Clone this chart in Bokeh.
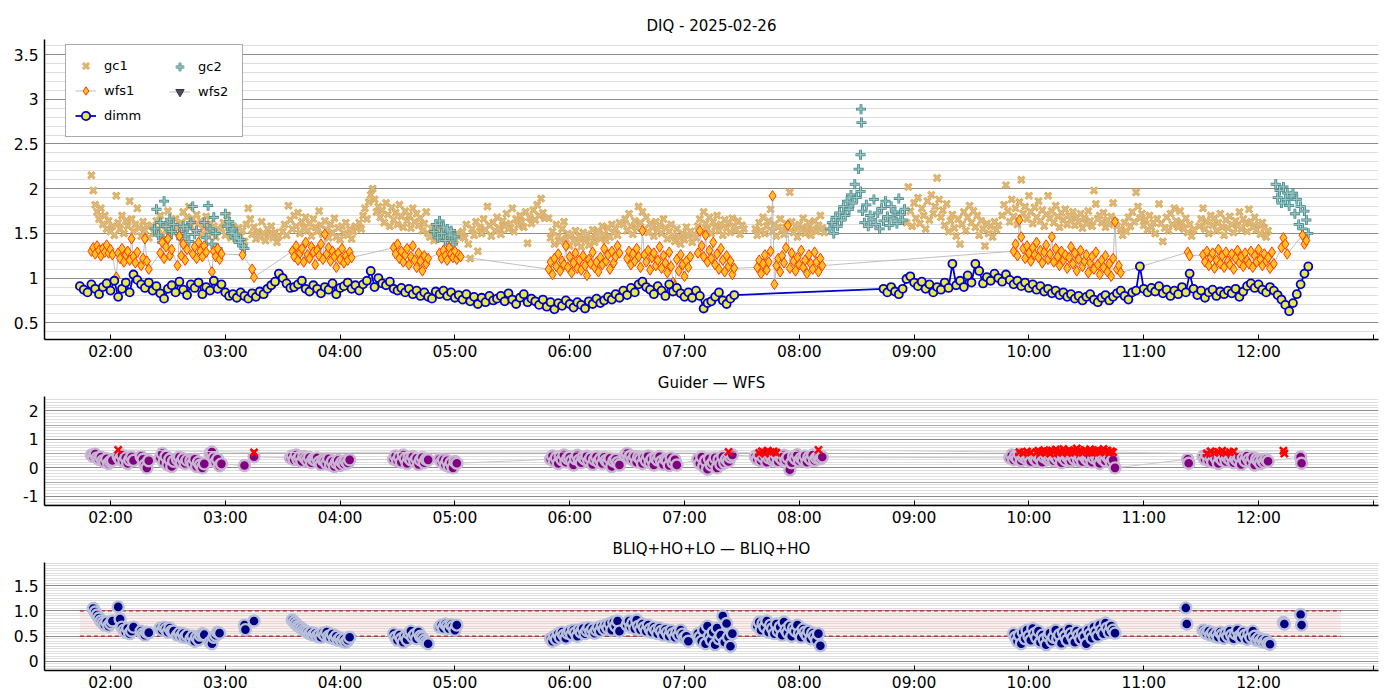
import numpy as np
from bokeh.plotting import figure
from bokeh.layouts import column
from bokeh.models import Range1d, FixedTicker, Legend, LegendItem, Grid, BoxAnnotation
from bokeh.embed import file_html
from bokeh.resources import INLINE

FONT = "DejaVu Sans"

# ---------------- text / axes ----------------
TITLE_TOP = "DIQ - 2025-02-26"
TITLE_MID = "Guider \u2014 WFS"
TITLE_BOT = "BLIQ+HO+LO \u2014 BLIQ+HO"
X_START, X_END = "01:25.5", "13:02.7"
X_TICK_HOURS = [2, 3, 4, 5, 6, 7, 8, 9, 10, 11, 12, 13]
X_TICK_LABELS = ["02:00", "03:00", "04:00", "05:00", "06:00", "07:00", "08:00",
                 "09:00", "10:00", "11:00", "12:00", ""]
TOP_Y_TICKS = [0.5, 1.0, 1.5, 2.0, 2.5, 3.0, 3.5]
TOP_Y_LABELS = ["0.5", "1", "1.5", "2", "2.5", "3", "3.5"]
MID_Y_TICKS = [-1, 0, 1, 2]
MID_Y_LABELS = ["-1", "0", "1", "2"]
BOT_Y_TICKS = [0.0, 0.5, 1.0, 1.5]
BOT_Y_LABELS = ["0", "0.5", "1.0", "1.5"]
BAND_START, BAND_END = "01:44", "12:43"
BAND_LOW, BAND_HIGH = 0.5, 1.0

# ---------------- data: (start time, cadence in minutes, values) ----------------
DIMM = [
    ("01:44", 2, [0.91, 0.87, 0.84, 0.93, 0.88, 0.82, 0.90, 0.94, 0.86, 0.97,
                  0.79, 0.88, 0.95, 0.84, 1.04, 0.98, 0.93, 0.89, 0.95, 0.86,
                  0.91, 0.83, 0.77, 0.88, 0.92, 0.84, 0.96, 0.87, 0.81, 0.93,
                  0.89, 0.95, 0.82, 0.90, 0.86, 0.97, 0.88, 0.93, 0.84, 0.80,
                  0.82, 0.78, 0.84, 0.80, 0.77, 0.83, 0.79, 0.85, 0.82, 0.88,
                  0.92, 0.96, 1.05, 1.00, 0.94, 0.89, 0.90, 0.93, 0.97, 0.88,
                  0.85, 0.92, 0.88, 0.83, 0.90, 0.87, 0.94, 0.82, 0.89, 0.91,
                  0.95, 0.88, 0.92, 0.86, 0.93, 0.97, 1.08, 0.90, 1.00, 0.94,
                  0.92, 0.96, 0.88, 0.86, 0.89, 0.84, 0.88, 0.82, 0.86, 0.80,
                  0.84, 0.79, 0.77, 0.85, 0.82, 0.86, 0.80, 0.84, 0.78, 0.81,
                  0.76, 0.82, 0.74, 0.79, 0.71, 0.78, 0.73, 0.80, 0.75, 0.77,
                  0.80, 0.74, 0.83, 0.76, 0.71, 0.78, 0.82, 0.73, 0.77, 0.74,
                  0.70, 0.76, 0.68, 0.73, 0.65, 0.72, 0.69, 0.75, 0.71, 0.67,
                  0.73, 0.70, 0.66, 0.74, 0.71, 0.77, 0.72, 0.75, 0.79, 0.76,
                  0.82, 0.78, 0.86, 0.81, 0.89, 0.84, 0.93, 0.96, 0.90, 0.87,
                  0.82, 0.91, 0.86, 0.80, 0.93, 0.85, 0.89, 0.83, 0.79, 0.84,
                  0.78, 0.86, 0.80, 0.66, 0.72, 0.74, 0.79, 0.84, 0.75, 0.71,
                  0.77, 0.81]),
    ("08:44", 2, [0.88, 0.84, 0.90, 0.85, 0.82, 0.88, 0.99, 1.02, 0.95, 0.91,
                  0.96, 0.88, 0.93, 0.84, 0.90, 0.87, 0.95, 0.89, 1.16, 0.92,
                  0.97, 0.90, 1.03, 0.95, 1.16, 1.08, 0.94, 1.01, 0.97, 1.05,
                  1.00, 0.96, 1.04, 0.98, 0.93, 0.97, 0.91, 0.95, 0.89, 0.93,
                  0.87, 0.91, 0.85, 0.88, 0.83, 0.86, 0.81, 0.84, 0.79, 0.82,
                  0.77, 0.80, 0.75, 0.79, 0.82, 0.76, 0.73, 0.78, 0.81, 0.75,
                  0.79, 0.83, 0.86, 0.80, 0.76, 0.84, 0.86, 1.13, 0.88, 0.84,
                  0.89, 0.85, 0.91, 0.83, 0.87, 0.80, 0.86, 0.82, 0.90, 0.84,
                  1.05, 0.88, 0.81, 0.86, 0.78, 0.84, 0.87, 0.80, 0.85, 0.82,
                  0.86, 0.83, 0.88, 0.79, 0.85, 0.91, 0.94, 0.89, 0.93, 0.87,
                  0.84, 0.90, 0.86, 0.81, 0.76, 0.70, 0.63, 0.72, 0.82, 0.93,
                  1.05, 1.13]),
]

WFS1 = [
    ("01:50", 1, [1.30, 1.34, 1.27, 1.36, 1.31, 1.25, 1.33, 1.29, 1.37, 1.28, 1.32, 1.26]),
    ("02:03", 1, [1.01, 1.28, 1.22, 1.33, 1.18, 1.26, 1.30, 1.20, 1.44, 1.24, 1.17, 1.29]),
    ("02:16", 1, [1.14, 1.22, 1.44, 1.19, 1.10]),
    ("02:26", 1, [1.28, 1.40, 1.22, 1.35, 1.44, 1.25, 1.32]),
    ("02:35", 1, [1.14, 1.47, 1.25, 1.38, 1.20, 1.32]),
    ("02:43", 1, [1.27, 1.35, 1.22, 1.40, 1.30, 1.24, 1.36, 1.29]),
    ("02:53", 1, [1.07, 1.30, 1.24, 1.33, 1.21, 1.27]),
    ("03:09", 1, [1.26]),
    ("03:14", 1, [1.10, 1.01]),
    ("03:35", 1, [1.30, 1.24, 1.36, 1.20, 1.28, 1.33, 1.18, 1.40, 1.26, 1.22, 1.35, 1.29,
                  1.15, 1.31, 1.25, 1.38, 1.21, 1.49, 1.27, 1.34, 1.19, 1.30, 1.24, 1.12,
                  1.28, 1.21, 1.33, 1.17, 1.25, 1.20, 1.29, 1.23]),
    ("04:28", 1, [1.34, 1.27, 1.38, 1.22, 1.30, 1.18, 1.26, 1.33, 1.15, 1.24, 1.36, 1.20,
                  1.12, 1.28, 1.19, 1.08, 1.25, 1.16, 1.22]),
    ("04:52", 1, [1.28, 1.22, 1.31, 1.25, 1.20, 1.34, 1.27, 1.23, 1.30, 1.21, 1.26, 1.24]),
    ("05:49", 1, [1.10, 1.18, 1.04, 1.22, 1.13, 1.27, 1.08, 1.19, 1.15, 1.36, 1.12, 1.24,
                  1.06, 1.17, 1.28, 1.11, 1.20, 1.09, 1.25, 1.14, 1.03, 1.21, 1.16, 1.29,
                  1.12, 1.18, 1.07, 1.23, 1.15, 1.33, 1.19, 1.26, 1.10, 1.30, 1.17, 1.24,
                  1.36, 1.28]),
    ("06:30", 1, [1.22, 1.30, 1.15, 1.27, 1.19, 1.33, 1.24, 1.12, 1.53, 1.26, 1.18, 1.31,
                  1.09, 1.23, 1.28, 1.14, 1.20, 1.35, 1.11, 1.25, 1.17, 1.06, 1.29, 1.13,
                  0.95, 0.91, 1.21, 1.08, 1.26, 1.15, 1.02, 1.19, 1.12, 1.24]),
    ("07:07", 1, [1.28, 1.53, 1.36, 1.24, 1.48, 1.18, 1.31, 1.22, 1.40, 1.15, 1.27, 1.10,
                  1.33, 1.20, 1.07, 1.25, 1.13, 1.19, 1.04, 1.11]),
    ("07:38", 1, [1.12, 1.20, 1.05, 1.16, 1.26, 1.09, 1.18, 1.30, 1.92, 0.93, 1.14, 1.22,
                  1.07, 1.25, 1.17, 1.34, 1.59, 1.11, 1.28, 1.19, 1.08, 1.23, 1.15, 1.31,
                  1.12, 1.20, 1.05, 1.26, 1.16, 1.10, 1.29, 1.18, 1.07, 1.22, 1.14]),
    ("09:52", 1, [1.30, 1.38, 1.25, 1.65, 1.46, 1.33, 1.22, 1.36, 1.28, 1.19, 1.34, 1.26,
                  1.40, 1.23, 1.31, 1.17, 1.29, 1.37, 1.21, 1.27, 1.46, 1.18, 1.33, 1.24,
                  1.14, 1.30, 1.20, 1.26, 1.11, 1.23, 1.35, 1.16, 1.28, 1.08, 1.21, 1.31,
                  1.13, 1.19, 1.26, 1.06, 1.17, 1.24, 1.10, 1.29, 1.15, 1.04, 1.20, 1.12,
                  1.25, 1.07, 1.16, 1.02, 1.22, 1.63, 1.10, 1.14, 1.06]),
    ("11:23", 1, [1.29, 1.25]),
    ("11:31", 1, [1.26, 1.18, 1.30, 1.14, 1.23, 1.28, 1.11, 1.20, 1.32, 1.16, 1.25, 1.12,
                  1.29, 1.19, 1.15, 1.27, 1.10, 1.22, 1.31, 1.17, 1.24, 1.13, 1.28, 1.20,
                  1.16, 1.30, 1.12, 1.25, 1.18, 1.32, 1.21, 1.14, 1.27, 1.19, 1.23, 1.11,
                  1.29, 1.16]),
    ("12:12", 1, [1.34, 1.45, 1.38, 1.27]),
    ("12:23", 1, [1.48, 1.38, 1.42]),
]

GC1 = [
    ("01:50", 1, [2.15, 1.98, 1.82, 1.74, 1.66, 1.78, 1.60, 1.70, 1.55, 1.64, 1.52, 1.58]),
    ("02:02", 1, [1.48, 1.92, 1.62, 1.55, 1.70, 1.50, 1.64, 1.58, 1.86, 1.66, 1.52, 1.60,
                  1.78, 1.56, 1.47, 1.63, 1.53, 1.59, 1.45]),
    ("02:22", 1, [1.58, 1.50, 1.64, 1.55, 1.70, 1.48, 1.60, 1.53, 1.75, 1.57, 1.62, 1.51,
                  1.66, 1.56, 1.59]),
    ("02:37", 1, [1.62, 1.74, 1.55, 1.68, 1.80, 1.58, 1.66, 1.52, 1.71, 1.60, 1.64, 1.49,
                  1.57, 1.69, 1.54, 1.61, 1.50, 1.58, 1.46, 1.55]),
    ("02:58", 1, [1.55, 1.62, 1.48, 1.70, 1.52, 1.45, 1.58, 1.50, 1.43, 1.56, 1.47, 1.53,
                  1.41, 1.60, 1.78, 1.66, 1.49, 1.57, 1.44, 1.52, 1.46, 1.63, 1.50, 1.42,
                  1.55, 1.48, 1.58, 1.45, 1.51, 1.40, 1.47]),
    ("03:30", 1, [1.52, 1.60, 1.48, 1.81, 1.65, 1.55, 1.70, 1.58, 1.73, 1.50, 1.63, 1.56,
                  1.68, 1.53, 1.61, 1.47, 1.66, 1.57, 1.52, 1.75, 1.59, 1.49, 1.64, 1.54,
                  1.45, 1.60, 1.51, 1.67, 1.46, 1.56, 1.43, 1.58, 1.50, 1.62, 1.48, 1.55,
                  1.44, 1.52, 1.58]),
    ("04:10", 1, [1.62, 1.55, 1.70, 1.78, 1.66, 1.85, 1.93, 2.00, 1.88, 1.74, 1.80, 1.68,
                  1.76, 1.62, 1.84, 1.71, 1.58, 1.79, 1.65, 1.73, 1.60, 1.82, 1.69, 1.57,
                  1.75, 1.64, 1.70, 1.56, 1.78, 1.63, 1.72, 1.59, 1.67, 1.53, 1.61, 1.74]),
    ("04:46", 1, [1.50, 1.46, 1.55, 1.42, 1.52, 1.48, 1.58, 1.44, 1.51, 1.47, 1.40, 1.53,
                  1.45, 1.49, 1.43, 1.50, 1.46]),
    ("05:04", 1, [1.52, 1.45, 1.60, 1.38, 1.22, 1.55, 1.48, 1.63, 1.30, 1.57, 1.50, 1.66,
                  1.54, 1.80, 1.59, 1.47, 1.62, 1.53, 1.68, 1.56, 1.49, 1.64, 1.58, 1.72,
                  1.55, 1.61, 1.78, 1.52, 1.66, 1.59, 1.70, 1.63, 1.57, 1.74, 1.39, 1.68,
                  1.61, 1.76, 1.65, 1.82, 1.70, 1.89, 1.73, 1.67]),
    ("05:49", 1, [1.67, 1.45, 1.52, 1.38, 1.60, 1.47, 1.41, 1.55, 1.63, 1.44, 1.50, 1.36,
                  1.48, 1.42, 1.53, 1.39, 1.46, 1.35, 1.51, 1.43, 1.49, 1.37, 1.45, 1.54,
                  1.40, 1.47, 1.52, 1.44, 1.58, 1.49, 1.42, 1.56, 1.46, 1.60, 1.51, 1.55,
                  1.48, 1.62]),
    ("06:28", 1, [1.60, 1.66, 1.53, 1.72, 1.58, 1.49, 1.64, 1.56, 1.80, 1.62, 1.74, 1.55,
                  1.68, 1.51, 1.61, 1.57, 1.47, 1.63, 1.54, 1.59, 1.50, 1.66, 1.56, 1.44,
                  1.52, 1.60, 1.48, 1.41, 1.55, 1.46, 1.38, 1.50, 1.43, 1.57, 1.47, 1.52,
                  1.40, 1.49, 1.45]),
    ("07:07", 1, [1.58, 1.66, 1.52, 1.74, 1.61, 1.55, 1.68, 1.50, 1.63, 1.57, 1.70, 1.53,
                  1.60, 1.48, 1.65, 1.56, 1.62, 1.51, 1.67, 1.58, 1.54, 1.64, 1.49, 1.59,
                  1.55]),
    ("07:37", 1, [1.55, 1.48, 1.62, 1.53, 1.68, 1.50, 1.58, 1.64, 1.77, 1.52, 1.60, 1.47,
                  1.57, 1.66, 1.54, 1.49, 1.61, 1.56, 1.96, 1.63, 1.51, 1.58, 1.46, 1.60,
                  1.54, 1.67, 1.50, 1.57, 1.62, 1.48, 1.55, 1.64, 1.52, 1.59, 1.70, 1.56,
                  1.51]),
    ("08:56", 1, [1.62, 2.02, 1.75, 1.58, 1.84, 1.67, 1.90, 1.61, 1.78, 1.70, 1.55, 1.86,
                  1.65, 1.93, 1.72, 1.80, 2.12, 1.88, 1.68, 1.76, 1.59, 1.83, 1.52, 1.64,
                  1.71, 1.56, 1.47, 1.66, 1.38, 1.60, 1.74, 1.53, 1.68, 1.81, 1.62, 1.75,
                  1.57, 1.70, 1.48, 1.64, 1.55, 1.36, 1.61, 1.50, 1.58, 1.46, 1.63, 1.54,
                  1.59]),
    ("09:46", 1, [1.70, 1.82, 2.04, 1.75, 1.63, 1.88, 1.69, 1.78, 1.60, 1.85, 2.10, 1.72,
                  1.80, 1.66, 1.92, 1.74, 1.61, 1.79, 1.68, 1.86, 1.64, 1.76, 1.58, 1.71,
                  1.92, 1.67, 1.75, 1.62, 1.81, 1.69, 1.57, 1.73, 1.65, 1.77, 1.60, 1.70,
                  1.66, 1.74, 1.59, 1.68, 1.63, 1.72, 1.56, 1.67, 1.61, 1.75, 1.64, 1.58,
                  1.98, 1.83, 1.66, 1.70, 1.62, 1.73, 1.57, 1.65, 1.60, 1.69, 1.84, 1.63,
                  1.58]),
    ("10:48", 1, [1.55, 1.48, 1.62, 1.52, 1.68, 1.58, 1.74, 1.63, 1.96, 1.80, 1.67, 1.72,
                  1.59, 1.65, 1.54, 1.70, 1.57, 1.62, 1.50, 1.66, 1.83, 1.61, 1.41, 1.56,
                  1.68, 1.53, 1.72, 1.60, 1.78, 1.64, 1.57, 1.75, 1.62, 1.55, 1.67, 1.51,
                  1.60, 1.47, 1.54]),
    ("11:29", 1, [1.58, 1.66, 1.78, 1.55, 1.63, 1.50, 1.70, 1.59, 1.67, 1.53, 1.62, 1.72,
                  1.57, 1.48, 1.65, 1.56, 1.69, 1.60, 1.51, 1.64, 1.58, 1.74, 1.55, 1.66,
                  1.61, 1.52, 1.77, 1.63, 1.57, 1.68, 1.54, 1.60, 1.49, 1.62, 1.56, 1.46,
                  1.53]),
]

GC2 = [
    ("02:23", 1, [1.55, 1.77, 1.48, 1.62, 1.40, 1.86, 1.58, 1.45, 1.66, 1.52, 1.60]),
    ("02:36", 1, [1.50, 1.44, 1.58, 1.47, 1.55, 1.41, 1.62, 1.80, 1.49, 1.53]),
    ("02:49", 1, [1.62, 1.45, 1.81, 1.55, 1.38, 1.68, 1.50, 1.33]),
    ("03:00", 1, [1.72, 1.58, 1.63, 1.50, 1.55, 1.45, 1.48, 1.40, 1.43, 1.36, 1.33]),
    ("04:49", 1, [1.52, 1.60, 1.45, 1.64, 1.50, 1.57, 1.42, 1.55, 1.48, 1.53, 1.38, 1.46]),
    ("08:16", 1, [1.55, 1.62, 1.50, 1.68, 1.58, 1.73, 1.65, 1.80, 1.70, 1.86, 1.77, 1.93,
                  1.84, 2.05, 1.90, 2.22, 1.97]),
    ("08:32", 0.25, [2.38, 2.89, 2.74]),
    ("08:33", 1, [1.75, 1.62, 1.82, 1.58, 1.70, 1.66, 1.88, 1.60, 1.73, 1.55, 1.78, 1.64,
                  1.86, 1.69, 1.59, 1.80, 1.67, 1.74, 1.61, 1.89, 1.71, 1.65, 1.77]),
    ("12:09", 1, [2.05, 1.90, 1.98, 1.84, 2.02, 1.88, 1.95, 1.81, 1.92]),
    ("12:18", 1, [1.95, 1.72, 1.88, 1.60, 1.80, 1.55, 1.75, 1.65, 1.50]),
]

WFS2 = [("12:00", 1, [float("nan")])]   # no valid wfs2 measurement this night

GUIDER_WFS = [
    ("01:50", 1, [0.45, 0.40, 0.48, 0.35, 0.30, 0.38, 0.25, 0.20, 0.32, 0.15, 0.22, 0.26]),
    ("02:04", 1, [0.40, 0.30, 0.45, 0.22, 0.35, 0.15, 0.28, 0.38, 0.26]),
    ("02:16", 1, [0.40, 0.30, 0.10, 0.00, 0.25]),
    ("02:26", 1, [0.35, 0.50, 0.20, 0.40, 0.10, 0.30, 0.05, 0.23]),
    ("02:35", 1, [0.30, 0.38, 0.20, 0.32, 0.15, 0.27]),
    ("02:42", 1, [0.25, 0.15, 0.30, 0.05, 0.20, 0.10, 0.00, 0.14]),
    ("02:52", 1, [0.50, 0.55, 0.35, 0.20, 0.30, 0.07, 0.14]),
    ("03:10", 1, [0.08]),
    ("03:15", 1, [0.39]),
    ("03:34", 1, [0.35, 0.42, 0.28, 0.45, 0.30, 0.38, 0.22, 0.40, 0.33, 0.25, 0.36, 0.18,
                  0.30, 0.27, 0.35, 0.20, 0.12, 0.28, 0.24, 0.15, 0.32, 0.10, 0.22, 0.05,
                  0.18, 0.26, 0.08, 0.20, 0.14, 0.25, 0.17, 0.28]),
    ("04:28", 1, [0.30, 0.42, 0.25, 0.38, 0.20, 0.45, 0.32, 0.15, 0.35, 0.28, 0.40, 0.22,
                  0.33, 0.12, 0.27, 0.36, 0.18, 0.30, 0.28]),
    ("04:52", 1, [0.30, 0.20, 0.28, 0.10, 0.25, 0.05, 0.18, 0.00, 0.22, 0.16]),
    ("05:50", 1, [0.30, 0.42, 0.22, 0.35, 0.15, 0.40, 0.28, 0.45, 0.20, 0.33, 0.38, 0.25,
                  0.10, 0.32, 0.44, 0.27, 0.18, 0.36, 0.30, 0.41, 0.23, 0.34, 0.12, 0.29,
                  0.39, 0.21, 0.31, 0.15, 0.37, 0.26, 0.20, 0.33, 0.05, 0.24, 0.30, 0.18,
                  0.10]),
    ("06:29", 1, [0.45, 0.50, 0.35, 0.42, 0.28, 0.40, 0.20, 0.38, 0.32, 0.15, 0.36, 0.25,
                  0.42, 0.18, 0.30, 0.10, 0.34, 0.27, 0.40, 0.22, 0.12, 0.31, 0.26, 0.08,
                  0.35, 0.19, 0.28, 0.10]),
    ("07:07", 1, [0.30, 0.15, 0.38, 0.05, 0.25, -0.05, 0.32, 0.10, 0.20, 0.35, 0.00, 0.28,
                  0.12, 0.40, 0.18, 0.30, 0.22, 0.38, 0.45]),
    ("07:37", 1, [0.40, 0.30, 0.45, 0.25, 0.38, 0.50, 0.20, 0.35, 0.42, 0.28, 0.33, 0.48,
                  0.22, 0.38, 0.30, 0.44, 0.26, 0.36, -0.07, 0.18, 0.40, 0.32, 0.46, 0.24,
                  0.34, 0.28, 0.42, 0.20, 0.37, 0.30, 0.45, 0.26, 0.35, 0.40, 0.32, 0.38]),
    ("09:50", 1, [0.35, 0.45, 0.28, 0.40, 0.33, 0.48, 0.25, 0.38, 0.42, 0.30, 0.36, 0.22,
                  0.44, 0.32, 0.27, 0.40, 0.35, 0.20, 0.38, 0.46, 0.29, 0.34, 0.41, 0.25,
                  0.37, 0.31, 0.43, 0.18, 0.35, 0.28, 0.40, 0.33, 0.24, 0.39, 0.30, 0.45,
                  0.26, 0.36, 0.22, 0.41, 0.32, 0.28, 0.38, 0.20, 0.34, 0.42, 0.27, 0.15,
                  0.36, 0.30, 0.24, 0.40, 0.33, 0.19, 0.28, 0.00]),
    ("11:23", 0.5, [0.30, 0.16]),
    ("11:31", 1, [0.40, 0.30, 0.45, 0.25, 0.38, 0.20, 0.42, 0.33, 0.15, 0.36, 0.28, 0.44,
                  0.22, 0.35, 0.30, 0.40, 0.18, 0.32, 0.26, 0.38, 0.12, 0.34, 0.24, 0.41,
                  0.29, 0.20, 0.36, 0.10, 0.31, 0.25, 0.15, 0.28, 0.20, 0.30, 0.23]),
    ("12:22", 0.5, [0.38, 0.16]),
]

GUIDER_FLAG = [
    ("02:04", 1, [0.63]),
    ("03:15", 1, [0.54]),
    ("07:23", 1, [0.56]),
    ("07:39", 1.5, [0.52, 0.58, 0.50, 0.60, 0.55, 0.57, 0.53]),
    ("08:10", 1, [0.63]),
    ("09:55", 2, [0.55, 0.52, 0.57, 0.54]),
    ("10:04", 1, [0.55, 0.60, 0.52, 0.58, 0.62, 0.54, 0.57, 0.50, 0.61, 0.56, 0.64, 0.53,
                  0.59, 0.55, 0.66, 0.58, 0.52, 0.62, 0.57, 0.60, 0.54, 0.68, 0.56, 0.61,
                  0.53, 0.63, 0.58, 0.55, 0.65, 0.52, 0.60, 0.57, 0.62, 0.54, 0.59, 0.66,
                  0.56, 0.61, 0.53, 0.58, 0.55]),
    ("11:33", 2, [0.50, 0.58, 0.53, 0.56, 0.60, 0.52, 0.55, 0.57]),
    ("12:13", 0.5, [0.60, 0.50]),
]

BLIQ_DIFF = [
    ("01:51", 1, [1.05, 0.98, 0.92, 0.86, 0.80, 0.76, 0.72, 0.78, 0.70, 0.75, 0.80]),
    ("02:04", 1, [1.08, 0.84, 0.68, 0.62, 0.58, 0.65, 0.55, 0.60, 0.68]),
    ("02:16", 1, [0.60, 0.55, 0.52, 0.58, 0.57]),
    ("02:26", 1, [0.66, 0.62, 0.68, 0.64, 0.58, 0.66, 0.60, 0.60]),
    ("02:35", 1, [0.52, 0.56, 0.50, 0.55, 0.48, 0.52]),
    ("02:42", 1, [0.45, 0.50, 0.40, 0.48, 0.43, 0.52, 0.55, 0.53]),
    ("02:52", 1, [0.38, 0.35, 0.48, 0.52, 0.58, 0.56]),
    ("03:10", 0.5, [0.72, 0.63]),
    ("03:15", 1, [0.80]),
    ("03:35", 1, [0.82, 0.78, 0.74, 0.70, 0.68, 0.65, 0.62, 0.60, 0.58, 0.55, 0.57, 0.52,
                  0.55, 0.50, 0.53, 0.48, 0.56, 0.52, 0.58, 0.50, 0.47, 0.54, 0.45, 0.50,
                  0.42, 0.46, 0.40, 0.44, 0.38, 0.42, 0.48]),
    ("04:28", 1, [0.55, 0.48, 0.42, 0.52, 0.45, 0.38, 0.50, 0.43, 0.56, 0.60, 0.48, 0.53,
                  0.45, 0.58, 0.50, 0.47, 0.42, 0.38, 0.35]),
    ("04:52", 1, [0.68, 0.72, 0.66, 0.74, 0.70, 0.65, 0.73, 0.69, 0.62, 0.72]),
    ("05:50", 1, [0.45, 0.40, 0.50, 0.44, 0.55, 0.48, 0.58, 0.52, 0.46, 0.56, 0.60, 0.53,
                  0.62, 0.57, 0.50, 0.63, 0.58, 0.65, 0.55, 0.61, 0.67, 0.59, 0.64, 0.56,
                  0.62, 0.68, 0.60, 0.70, 0.64, 0.72, 0.66, 0.75, 0.62, 0.78, 0.70, 0.80,
                  0.60]),
    ("06:30", 1, [0.72, 0.80, 0.68, 0.76, 0.65, 0.82, 0.70, 0.63, 0.74, 0.67, 0.60, 0.72,
                  0.64, 0.58, 0.68, 0.62, 0.55, 0.66, 0.60, 0.52, 0.63, 0.57, 0.50, 0.61,
                  0.55, 0.48, 0.58, 0.52, 0.62, 0.54, 0.47, 0.50, 0.40]),
    ("07:07", 1, [0.55, 0.48, 0.40, 0.62, 0.35, 0.70, 0.50, 0.42, 0.58, 0.33, 0.66, 0.45,
                  0.52, 0.90, 0.38, 0.75, 0.48, 0.30, 0.55]),
    ("07:38", 1, [0.70, 0.78, 0.62, 0.75, 0.68, 0.80, 0.58, 0.72, 0.65, 0.55, 0.74, 0.60,
                  0.68, 0.52, 0.78, 0.63, 0.57, 0.70, 0.50, 0.66, 0.60, 0.72, 0.55, 0.48,
                  0.64, 0.58, 0.52, 0.60, 0.45, 0.56, 0.50, 0.42, 0.55, 0.31]),
    ("09:52", 1, [0.55, 0.48, 0.40, 0.52, 0.35, 0.58, 0.45, 0.62, 0.50, 0.42, 0.65, 0.55,
                  0.47, 0.60, 0.38, 0.52, 0.44, 0.33, 0.50, 0.56, 0.40, 0.48, 0.62, 0.45,
                  0.53, 0.36, 0.58, 0.50, 0.42, 0.64, 0.55, 0.47, 0.38, 0.60, 0.52, 0.44,
                  0.57, 0.49, 0.35, 0.62, 0.54, 0.46, 0.68, 0.58, 0.50, 0.72, 0.62, 0.55,
                  0.76, 0.66, 0.58, 0.70, 0.62, 0.56]),
    ("11:22", 0.5, [1.06, 0.74]),
    ("11:31", 1, [0.62, 0.58, 0.55, 0.60, 0.52, 0.57, 0.50, 0.55, 0.48, 0.58, 0.53, 0.46,
                  0.56, 0.50, 0.60, 0.52, 0.45, 0.55, 0.62, 0.50, 0.47, 0.58, 0.52, 0.44,
                  0.55, 0.48, 0.60, 0.50, 0.42, 0.46, 0.40, 0.44, 0.38, 0.42, 0.36, 0.34]),
    ("12:13", 0.5, [0.77, 0.74]),
    ("12:22", 0.5, [0.93, 0.72]),
]


# ---------------- helpers ----------------
def hrs(s):
    h, m = s.split(":")
    return int(h) + float(m) / 60.0


def expand(segments):
    t, v = [], []
    for start, step, vals in segments:
        t0 = hrs(start)
        for i, val in enumerate(vals):
            t.append(t0 + i * step / 60.0)
            v.append(val)
    return t, v


def minor_list(lo, hi, step, majors):
    out = []
    for v in np.arange(lo, hi + 1e-9, step):
        v = round(float(v), 3)
        if all(abs(v - m) > 1e-6 for m in majors):
            out.append(v)
    return out


def make_fig(title, frame_h, y0, y1, ticks, labels, minor, top, bottom):
    p = figure(frame_width=1334, frame_height=frame_h,
               x_range=Range1d(hrs(X_START), hrs(X_END)), y_range=Range1d(y0, y1),
               output_backend="svg", toolbar_location=None,
               min_border_left=44, min_border_right=6,
               min_border_top=top, min_border_bottom=bottom,
               background_fill_color="white", border_fill_color="white",
               title=title)
    p.title.align = "center"
    p.title.text_font = FONT
    p.title.text_font_size = "15px"
    p.title.text_font_style = "normal"
    p.title.text_color = "black"
    p.title.standoff = 10
    p.outline_line_color = None

    xt = FixedTicker(ticks=X_TICK_HOURS)
    p.xaxis.ticker = xt
    p.xgrid.ticker = xt
    p.xgrid.visible = False
    p.xaxis.major_label_overrides = dict(zip(X_TICK_HOURS, X_TICK_LABELS))
    p.xaxis.major_tick_in = 5
    p.xaxis.major_tick_out = 0
    p.xaxis.major_tick_line_color = "black"
    p.xaxis.minor_tick_line_color = None
    p.xaxis.axis_line_color = "black"
    p.xaxis.axis_line_width = 1.5
    p.xaxis.major_label_text_font = FONT
    p.xaxis.major_label_text_font_size = "15.5px"
    p.xaxis.major_label_text_color = "black"
    p.xaxis.major_label_standoff = 3

    yt = FixedTicker(ticks=ticks, minor_ticks=minor)
    p.yaxis.ticker = yt
    p.ygrid.ticker = yt
    p.yaxis.major_label_overrides = dict(zip(ticks, labels))
    p.yaxis.major_tick_in = 0
    p.yaxis.major_tick_out = 0
    p.yaxis.minor_tick_in = 0
    p.yaxis.minor_tick_out = 0
    p.yaxis.major_tick_line_color = None
    p.yaxis.minor_tick_line_color = None
    p.yaxis.axis_line_color = "black"
    p.yaxis.axis_line_width = 1.5
    p.yaxis.major_label_text_font = FONT
    p.yaxis.major_label_text_font_size = "15.5px"
    p.yaxis.major_label_text_color = "black"
    p.yaxis.major_label_standoff = 6
    p.ygrid.grid_line_color = "#8c8c8c"
    p.ygrid.grid_line_width = 1
    p.ygrid.minor_grid_line_color = "#dedede"
    p.ygrid.minor_grid_line_width = 1
    return p


# ---------------- top panel ----------------
p1 = make_fig(TITLE_TOP, 300, 0.313, 3.669, TOP_Y_TICKS, TOP_Y_LABELS,
              minor_list(0.4, 3.6, 0.1, TOP_Y_TICKS), 39, 27)

t_gc1, v_gc1 = expand(GC1)
t_gc2, v_gc2 = expand(GC2)
t_w1, v_w1 = expand(WFS1)
t_w2, v_w2 = expand(WFS2)
t_dm, v_dm = expand(DIMM)

# gc1: filled "X" look = goldenrod outline + tan body
r_gc1a = p1.scatter(t_gc1, v_gc1, marker="x", size=9, line_width=3.0, line_color="#e3a43a")
r_gc1b = p1.scatter(t_gc1, v_gc1, marker="x", size=8, line_width=1.5, line_color="#d6ba90")
# gc2: filled "+" look = teal outline + grey-teal body
r_gc2a = p1.scatter(t_gc2, v_gc2, marker="cross", size=10, line_width=2.8, line_color="#2e8686")
r_gc2b = p1.scatter(t_gc2, v_gc2, marker="cross", size=9, line_width=1.3, line_color="#a6c0c0")
r_w1_line = p1.line(t_w1, v_w1, line_color="#b8b8b8", line_width=0.9)
r_w1 = p1.scatter(t_w1, v_w1, marker="diamond", size=10.5, fill_color="#ffc125",
                  line_color="#ff3a00", line_width=1)
r_w2_line = p1.line(t_w2, v_w2, line_color="#b8b8b8", line_width=0.9)
r_w2 = p1.scatter(t_w2, v_w2, marker="inverted_triangle", size=9, fill_color="#4c4c5c",
                  line_color="#30303c", line_width=1)
r_dm_line = p1.line(t_dm, v_dm, line_color="#0000cc", line_width=1.8)
r_dm = p1.scatter(t_dm, v_dm, marker="circle", size=8, fill_color="#e8e84a",
                  line_color="#0000cc", line_width=1.8)

leg_common = dict(padding=9, spacing=2, glyph_width=21, glyph_height=23,
                  label_height=23, label_standoff=8, margin=0,
                  label_text_font=FONT, label_text_font_size="13px",
                  label_text_color="black")
legA = Legend(items=[LegendItem(label="gc1", renderers=[r_gc1a, r_gc1b]),
                     LegendItem(label="wfs1", renderers=[r_w1_line, r_w1]),
                     LegendItem(label="dimm", renderers=[r_dm_line, r_dm])],
              location=(21, 202), label_width=129,
              border_line_color="#555555", border_line_width=1.2,
              background_fill_color="white", background_fill_alpha=1.0,
              **leg_common)
legB = Legend(items=[LegendItem(label="gc2", renderers=[r_gc2a, r_gc2b]),
                     LegendItem(label="wfs2", renderers=[r_w2_line, r_w2])],
              location=(116, 227), label_width=30,
              border_line_alpha=0, background_fill_alpha=0,
              **leg_common)
p1.add_layout(legA)
p1.add_layout(legB)

# ---------------- middle panel ----------------
p2 = make_fig(TITLE_MID, 109, -1.32, 2.5, MID_Y_TICKS, MID_Y_LABELS,
              minor_list(-1.3, 2.4, 0.1, MID_Y_TICKS + [-0.5, 0.5, 1.5, 2.5]), 30, 27)
half_grid = Grid(dimension=1, ticker=FixedTicker(ticks=[-0.5, 0.5, 1.5, 2.5]),
                 grid_line_color="#acacac", grid_line_width=1)
p2.add_layout(half_grid, "center")

t_g, v_g = expand(GUIDER_WFS)
t_f, v_f = expand(GUIDER_FLAG)
p2.line(t_g, v_g, line_color="#c8c8c8", line_width=1)
p2.scatter(t_g, v_g, marker="circle", size=11, fill_color="#800080",
           line_color="#cab4d3", line_width=2.4)
p2.line(t_f, v_f, line_color="#d0d0d0", line_width=1)
p2.scatter(t_f, v_f, marker="x", size=10, line_color="#ff0000", line_width=2.6)

# ---------------- bottom panel ----------------
p3 = make_fig(TITLE_BOT, 108, -0.18, 1.96, BOT_Y_TICKS, BOT_Y_LABELS,
              minor_list(-0.15, 1.95, 0.05, BOT_Y_TICKS), 30, 18)
band = BoxAnnotation(left=hrs(BAND_START), right=hrs(BAND_END), bottom=BAND_LOW, top=BAND_HIGH,
                     fill_color="#f7c8c8", fill_alpha=0.3, line_color=None, level="underlay")
p3.add_layout(band)
p3.segment(x0=[hrs(BAND_START)] * 2, x1=[hrs(BAND_END)] * 2, y0=[BAND_LOW, BAND_HIGH],
           y1=[BAND_LOW, BAND_HIGH], line_color="#c41e1e", line_width=1.3, line_dash="4 3")
t_b, v_b = expand(BLIQ_DIFF)
p3.scatter(t_b, v_b, marker="circle", size=11, fill_color="#000080",
           line_color="#b7bfda", line_width=2.4)

layout = column(p1, p2, p3, spacing=0)
open("out.html", "w").write(file_html(layout, INLINE, title="DIQ - 2025-02-26"))
